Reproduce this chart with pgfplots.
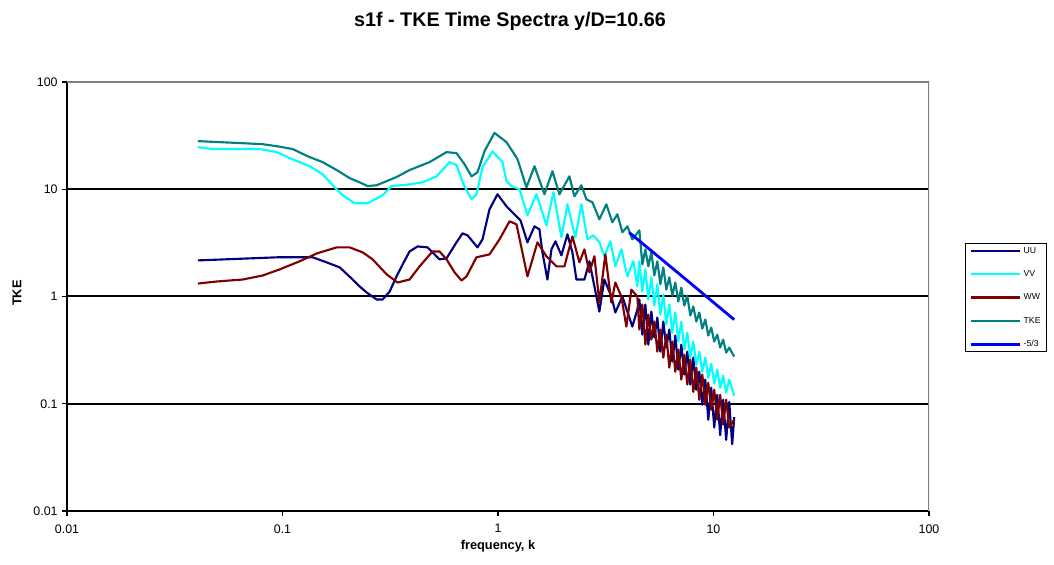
\documentclass[border=0pt]{standalone}
\usepackage{pgfplots}
\pgfplotsset{compat=1.18}
\usepackage{fontspec}
\setmainfont{Liberation Sans}

\definecolor{cUU}{RGB}{0,0,128}
\definecolor{cVV}{RGB}{0,255,255}
\definecolor{cWW}{RGB}{128,0,0}
\definecolor{cTKE}{RGB}{0,128,128}
\definecolor{cSlope}{RGB}{0,0,255}

\begin{document}
\begin{tikzpicture}
\begin{axis}[
  name=ax,
  scale only axis,
  width=646.5pt, height=321.75pt,
  xmode=log, ymode=log,
  xmin=0.01, xmax=100, ymin=0.01, ymax=100,
  xtick={0.01,0.1,1,10,100}, xticklabels={0.01,0.1,1,10,100},
  ytick={0.01,0.1,1,10,100}, yticklabels={0.01,0.1,1,10,100},
  xminorticks=false, yminorticks=false,
  ymajorgrids, grid style={black, line width=1.5pt},
  axis lines*=left,
  axis line style={black, line width=1.5pt, -},
  tick style={black, line width=1pt},
  tick align=outside, major tick length=3.5pt,
  ticklabel style={font=\fontsize{9.3}{11}\selectfont},
  xticklabel style={yshift=-3pt},
  xlabel={frequency, k},
  xlabel style={at={(axis description cs:0.5,-0.081)}, anchor=center,
    font=\bfseries\fontsize{9.6}{11}\selectfont},
  ylabel={TKE},
  ylabel style={at={(axis description cs:-0.058,0.508)}, anchor=center,
    font=\bfseries\fontsize{9.6}{11}\selectfont},
  legend style={at={(axis description cs:1.0418,0.6247)}, anchor=north west,
    draw=black, line width=0.8pt, fill=white,
    font=\fontsize{6.5}{7}\selectfont,
    inner xsep=3pt, inner ysep=1pt, row sep=8.75pt,
    nodes={inner sep=1.5pt, text height=4.6pt, text depth=1.2pt}},
  legend cell align=left,
  legend image code/.code={\draw[#1] (0pt,0pt) -- (37pt,0pt);},
  every axis plot/.append style={line width=1.6pt, line join=round, mark=none},
]

% UU spectrum
\addplot[cUU] coordinates {
(0.04048,2.17) (0.09504,2.32) (0.1381,2.32) (0.1603,2.08) (0.1842,1.87)
(0.2117,1.44) (0.2281,1.24) (0.2458,1.09) (0.2734,0.938) (0.2915,0.938)
(0.3141,1.11) (0.3384,1.54) (0.3609,1.99) (0.3889,2.63) (0.4235,2.93)
(0.4712,2.87) (0.5356,2.22) (0.5771,2.27) (0.6421,3.20) (0.6846,3.88)
(0.7221,3.72) (0.8035,2.87) (0.8476,3.41) (0.9133,6.50) (0.9946,8.98)
(1.0947,6.94) (1.193,5.84) (1.2715,5.13) (1.370,3.20) (1.4767,4.51)
(1.557,4.23) (1.6076,2.58) (1.6956,1.44) (1.7704,2.75) (1.8476,3.27)
(1.9696,2.42) (2.0996,3.80) (2.2147,2.58) (2.3112,1.44) (2.5178,1.44)
(2.656,2.13) (2.8618,1.00) (2.954,0.724) (3.1159,1.44) (3.358,1.00)
(3.5043,0.709) (3.777,1.00) (4.202,0.524) (4.432,0.756)
(4.529,0.938) (4.676,0.441) (4.828,0.842) (4.985,0.356) (5.148,0.724)
(5.315,0.414) (5.488,0.637) (5.667,0.306) (5.851,0.584) (6.041,0.334)
(6.238,0.492) (6.441,0.247) (6.650,0.432) (6.866,0.208) (7.091,0.356)
(7.321,0.187) (7.559,0.306) (7.806,0.151) (8.060,0.269) (8.322,0.135)
(8.593,0.199) (8.872,0.098) (9.161,0.168) (9.458,0.071) (9.763,0.141)
(10.08,0.060) (10.41,0.121) (10.74,0.051) (11.09,0.109) (11.45,0.046)
(11.83,0.104) (12.21,0.042) (12.48,0.075)
};
\addlegendentry{UU}

% VV spectrum
\addplot[cVV] coordinates {
(0.04048,24.7) (0.0475,23.7) (0.07843,23.7) (0.09403,22.2) (0.108,19.5)
(0.1338,16.4) (0.1536,13.8) (0.1710,10.9) (0.1902,8.79) (0.2162,7.40)
(0.2484,7.40) (0.2915,8.79) (0.3209,10.7) (0.3889,11.1) (0.4468,11.6)
(0.5187,13.2) (0.5959,17.9) (0.6421,16.8) (0.692,11.1) (0.7537,8.06)
(0.795,8.98) (0.8476,16.1) (0.943,22.5) (1.049,17.9) (1.0947,11.9)
(1.1554,10.7) (1.258,10.0) (1.370,5.72) (1.5085,8.98) (1.6777,4.61)
(1.8086,9.38) (1.9696,3.56) (2.0996,7.24) (2.2868,3.56) (2.4386,7.24)
(2.5994,3.41) (2.7718,3.72) (2.954,3.20) (3.1159,2.37) (3.3222,3.27)
(3.5043,1.91) (3.737,2.75) (3.9836,1.54) (4.2475,2.13) (4.432,1.24)
(4.529,2.13) (4.676,1.11) (4.828,1.79) (4.985,0.938) (5.148,1.51)
(5.315,0.824) (5.488,1.30) (5.667,0.679) (5.851,1.04) (6.041,0.547)
(6.238,0.842) (6.441,0.461) (6.650,0.709) (6.866,0.380) (7.091,0.584)
(7.321,0.320) (7.559,0.461) (7.806,0.269) (8.060,0.380) (8.322,0.231)
(8.593,0.306) (8.872,0.199) (9.161,0.269) (9.458,0.175) (9.763,0.236)
(10.08,0.154) (10.41,0.208) (10.74,0.141) (11.09,0.183) (11.45,0.127)
(11.83,0.168) (12.48,0.119)
};
\addlegendentry{VV}

% WW spectrum
\addplot[cWW] coordinates {
(0.04048,1.32) (0.04957,1.38) (0.06541,1.44) (0.08098,1.57) (0.09711,1.79)
(0.1202,2.13) (0.1442,2.52) (0.1784,2.87) (0.2050,2.87) (0.2355,2.58)
(0.2619,2.22) (0.3042,1.61) (0.3420,1.35) (0.3889,1.44) (0.4327,1.91)
(0.4970,2.63) (0.5356,2.63) (0.5771,2.22) (0.6286,1.68) (0.6774,1.41)
(0.7145,1.54) (0.7950,2.32) (0.9133,2.47) (1.016,3.41) (1.131,5.02)
(1.2187,4.71) (1.370,1.54) (1.5246,3.20) (1.6777,2.37) (1.8673,1.91)
(2.0337,1.91) (2.2147,3.64) (2.387,2.08) (2.5178,2.75) (2.656,1.68)
(2.8016,2.37) (2.954,0.879) (3.1493,2.47) (3.358,0.879) (3.5043,1.35)
(3.737,1.00) (3.9415,0.524) (4.158,1.16) (4.432,1.00)
(4.529,0.492) (4.676,0.842) (4.828,0.356) (4.985,0.679) (5.148,0.396)
(5.315,0.584) (5.488,0.306) (5.667,0.492) (5.851,0.269) (6.041,0.441)
(6.238,0.217) (6.441,0.380) (6.650,0.199) (6.866,0.320) (7.091,0.168)
(7.321,0.287) (7.559,0.151) (7.806,0.258) (8.060,0.129) (8.322,0.217)
(8.593,0.109) (8.872,0.187) (9.161,0.098) (9.458,0.157) (9.763,0.088)
(10.08,0.135) (10.41,0.071) (10.74,0.121) (11.09,0.064) (11.45,0.109)
(11.83,0.060) (12.48,0.071)
};
\addlegendentry{WW}

% total turbulent kinetic energy
\addplot[cTKE] coordinates {
(0.04048,28.1) (0.06472,26.9) (0.08098,26.3) (0.09403,25.2) (0.1115,23.7)
(0.1309,20.3) (0.1536,17.9) (0.1784,15.1) (0.2050,12.7) (0.2281,11.6)
(0.2484,10.7) (0.2734,10.9) (0.3042,11.9) (0.3384,13.0) (0.3889,15.1)
(0.4814,17.9) (0.5771,22.2) (0.6421,21.7) (0.6994,17.1) (0.7537,13.2)
(0.8035,14.4) (0.8659,22.7) (0.9634,33.5) (1.0947,27.5) (1.2317,19.1)
(1.3555,10.4) (1.4767,16.4) (1.6423,8.98) (1.7893,14.7) (1.928,8.98)
(2.145,13.2) (2.2625,8.60) (2.4386,10.9) (2.572,8.06) (2.742,7.56)
(2.954,5.24) (3.183,7.24) (3.394,4.92) (3.580,5.84) (3.777,3.97)
(3.984,4.51) (4.202,3.41)
(4.529,4.14) (4.676,1.99) (4.828,2.75) (4.985,1.91) (5.148,2.58)
(5.315,1.57) (5.488,2.13) (5.667,1.30) (5.851,1.87) (6.041,1.16)
(6.238,1.51) (6.441,1.02) (6.650,1.35) (6.866,0.898) (7.091,1.21)
(7.321,0.824) (7.559,1.02) (7.806,0.665) (8.060,0.806) (8.322,0.584)
(8.593,0.709) (8.872,0.502) (9.161,0.610) (9.458,0.432) (9.763,0.513)
(10.08,0.380) (10.41,0.441) (10.74,0.334) (11.09,0.396) (11.45,0.300)
(11.83,0.334) (12.48,0.275)
};
\addlegendentry{TKE}

% Kolmogorov -5/3 reference slope
\addplot[cSlope, line width=2.1pt] coordinates {
(4.07,3.94) (7.0,1.60) (12.48,0.608)
};
\addlegendentry{-5/3}

% plot-area frame on the top and right sides
\draw[black!50, line width=1.5pt] (rel axis cs:0,1) -- (rel axis cs:1,1) -- (rel axis cs:1,0);
\end{axis}
% chart title
\node[anchor=base, font=\bfseries\fontsize{14.8}{17}\selectfont]
  at ([xshift=332.25pt,yshift=41.25pt]ax.north west) {s1f - TKE Time Spectra y/D=10.66};
\pgfresetboundingbox
\path[use as bounding box] ([xshift=-50.25pt,yshift=-40.5pt]ax.south west)
  rectangle ([xshift=93.75pt,yshift=61.5pt]ax.north east);
\end{tikzpicture}
\end{document}
